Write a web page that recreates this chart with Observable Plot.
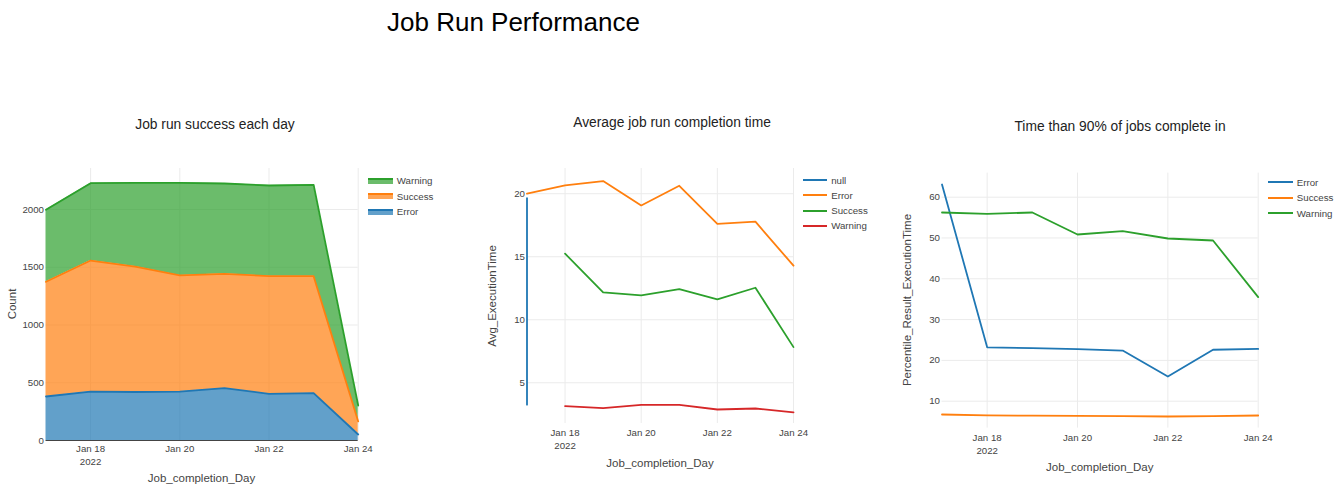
<!DOCTYPE html>
<html>
<head>
<meta charset="utf-8">
<script src="https://cdn.jsdelivr.net/npm/d3@7"></script>
<script src="https://cdn.jsdelivr.net/npm/@observablehq/plot@0.6"></script>
<style>
  html, body { margin: 0; padding: 0; background: #fff; }
  body { font-family: "Liberation Sans", Arial, Helvetica, sans-serif; }
  #root { position: relative; width: 1338px; height: 497px; overflow: hidden; background: #fff; }
  .abs { position: absolute; white-space: nowrap; }
  .ctr { transform: translate(-50%, -50%); }
  .rot { transform: translate(-50%, -50%) rotate(-90deg); }
  .legrow { position: absolute; height: 15.5px; display: flex; align-items: center; font-size: 9.7px; color: #444; white-space: nowrap; }
  .sw { display: inline-block; width: 24.5px; margin-right: 4px; }
  svg { overflow: visible; }
</style>
</head>
<body>
<div id="root"></div>
<script>
// ---------- data ----------
const days = ["2022-01-17","2022-01-18","2022-01-19","2022-01-20","2022-01-21","2022-01-22","2022-01-23","2022-01-24"];
const xTickDays = ["2022-01-18","2022-01-20","2022-01-22","2022-01-24"];
const xTickLabels = ["Jan 18\n2022","Jan 20","Jan 22","Jan 24"];

// Panel 1: counts per status (stacked)
const countStatuses = ["Error","Success","Warning"];
const countError   = [381, 424, 420, 424, 453, 404, 410, 52];
const countSuccess = [993, 1134, 1086, 1005, 990, 1019, 1013, 113];
const countWarning = [623, 670, 725, 802, 782, 785, 791, 138];
const countTicks = [0, 500, 1000, 1500, 2000];

// Panel 2: average execution time
const avgSeries = ["null","Error","Success","Warning"];
const avgNullDays = ["2022-01-17","2022-01-17"];
const avgNullValues = [19.64, 3.26];
const avgError   = [20.0, 20.66, 21.0, 19.07, 20.63, 17.6, 17.78, 14.29];
const avgSuccess = [null, 15.24, 12.17, 11.93, 12.43, 11.61, 12.54, 7.83];
const avgWarning = [null, 3.15, 2.99, 3.25, 3.25, 2.88, 2.96, 2.65];
const avgTicks = [5, 10, 15, 20];

// Panel 3: 90th percentile execution time
const pctSeries = ["Error","Success","Warning"];
const pctError   = [63.1, 23.2, 23.0, 22.75, 22.4, 16.05, 22.6, 22.8];
const pctSuccess = [6.73, 6.5, 6.45, 6.4, 6.35, 6.24, 6.35, 6.49];
const pctWarning = [56.24, 55.9, 56.24, 50.85, 51.67, 49.87, 49.38, 35.5];
const pctTicks = [10, 20, 30, 40, 50, 60];

const titleText = "Job Run Performance";
const subtitles = ["Job run success each day", "Average job run completion time", "Time than 90% of jobs complete in"];
const yTitles = ["Count", "Avg_ExecutionTime", "Percentile_Result_ExecutionTime"];
const xTitle = "Job_completion_Day";

// plotly default palette
const palette = ["#1f77b4", "#ff7f0e", "#2ca02c", "#d62728"];

// ---------- helpers ----------
const toDate = s => new Date(s + "T00:00:00Z");
const xTicks = xTickDays.map(toDate);
const labelByTime = new Map(xTicks.map((d, i) => [+d, xTickLabels[i]]));
const fmtX = d => labelByTime.get(+d);
const fmtY = d => String(d);
const xDomain = [toDate(days[0]), toDate(days[days.length - 1])];

function rowsFrom(seriesNames, valueArrays) {
  const rows = [];
  seriesNames.forEach((s, k) => {
    valueArrays[k].forEach((v, i) => {
      if (v != null) rows.push({day: toDate(days[i]), value: v, series: s});
    });
  });
  return rows;
}

const root = document.getElementById("root");
function addText(text, x, y, cls, style) {
  const el = document.createElement("div");
  el.className = "abs " + cls;
  el.textContent = text;
  el.style.left = x + "px";
  el.style.top = y + "px";
  Object.assign(el.style, style || {});
  root.appendChild(el);
  return el;
}
function placeSvg(svg, left, top) {
  svg.style.position = "absolute";
  svg.style.left = left + "px";
  svg.style.top = top + "px";
  root.appendChild(svg);
}
function addLegend(names, colors, x, y0, step, kind) {
  names.forEach((n, i) => {
    const row = document.createElement("div");
    row.className = "legrow";
    row.style.left = x + "px";
    row.style.top = (y0 + i * step - 7.75) + "px";
    const sw = document.createElement("span");
    sw.className = "sw";
    if (kind === "area") {
      sw.style.height = "4px";
      sw.style.background = d3.color(colors[i]).copy({opacity: 0.7}).formatRgb();
      sw.style.borderTop = "2px solid " + colors[i];
    } else {
      sw.style.height = "2px";
      sw.style.background = colors[i];
    }
    row.appendChild(sw);
    const tx = document.createElement("span");
    tx.textContent = n;
    row.appendChild(tx);
    root.appendChild(row);
  });
}

const svgStyle = {fontFamily: "'Liberation Sans', Arial, sans-serif", fontSize: "9.7px", color: "#444", background: "transparent", overflow: "visible"};
const gridColor = "#ebebeb";

// ---------- Panel 1: stacked areas ----------
const countRows = rowsFrom(countStatuses, [countError, countSuccess, countWarning]);
const countColors = [palette[0], palette[1], palette[2]];
const p1 = Plot.plot({
  width: 450, height: 310,
  marginLeft: 45.5, marginRight: 92.3, marginTop: 8, marginBottom: 30,
  style: svgStyle,
  x: {type: "utc", domain: xDomain},
  y: {domain: [0, 2355]},
  color: {domain: countStatuses, range: countColors},
  marks: [
    Plot.gridX(xTicks, {stroke: gridColor, strokeOpacity: 1}),
    Plot.gridY(countTicks.slice(1), {stroke: gridColor, strokeOpacity: 1}),
    Plot.ruleY([0], {stroke: "#444", strokeWidth: 1}),
    Plot.areaY(countRows, {x: "day", y: "value", fill: "series", fillOpacity: 0.7, order: countStatuses}),
    Plot.lineY(countRows, Plot.stackY2({x: "day", y: "value", z: "series", stroke: "series", strokeWidth: 1.8, order: countStatuses})),
    Plot.axisX(xTicks, {tickSize: 0, tickPadding: 2.3, tickFormat: fmtX, lineHeight: 1.35, label: null, fill: "#444"}),
    Plot.axisY(countTicks, {tickSize: 0, tickPadding: 2, tickFormat: fmtY, label: null, fill: "#444"})
  ]
});
placeSvg(p1, 0, 160);

// ---------- Panel 2: average lines ----------
const avgRows = rowsFrom(["Error","Success","Warning"], [avgError, avgSuccess, avgWarning]);
avgNullDays.forEach((d, i) => avgRows.push({day: toDate(d), value: avgNullValues[i], series: "null"}));
const p2 = Plot.plot({
  width: 353, height: 301,
  marginLeft: 66.5, marginRight: 20, marginTop: 8, marginBottom: 38,
  style: svgStyle,
  x: {type: "utc", domain: xDomain},
  y: {domain: [1.77, 22.0]},
  color: {domain: avgSeries, range: palette},
  marks: [
    Plot.gridX(xTicks, {stroke: gridColor, strokeOpacity: 1}),
    Plot.gridY(avgTicks, {stroke: gridColor, strokeOpacity: 1}),
    Plot.lineY(avgRows, {x: "day", y: "value", z: "series", stroke: "series", strokeWidth: 1.8}),
    Plot.axisX(xTicks, {tickSize: 0, tickPadding: 3.5, tickFormat: fmtX, lineHeight: 1.35, label: null, fill: "#444"}),
    Plot.axisY(avgTicks, {tickSize: 0, tickPadding: 2, tickFormat: fmtY, label: null, fill: "#444"})
  ]
});
placeSvg(p2, 460, 160);

// ---------- Panel 3: percentile lines ----------
const pctRows = rowsFrom(pctSeries, [pctError, pctSuccess, pctWarning]);
const p3 = Plot.plot({
  width: 400, height: 310,
  marginLeft: 61.5, marginRight: 22.3, marginTop: 12.6, marginBottom: 42.4,
  style: svgStyle,
  x: {type: "utc", domain: xDomain},
  y: {domain: [3.4, 65.9]},
  color: {domain: pctSeries, range: [palette[0], palette[1], palette[2]]},
  marks: [
    Plot.gridX(xTicks, {stroke: gridColor, strokeOpacity: 1}),
    Plot.gridY(pctTicks, {stroke: gridColor, strokeOpacity: 1}),
    Plot.lineY(pctRows, {x: "day", y: "value", z: "series", stroke: "series", strokeWidth: 1.8}),
    Plot.axisX(xTicks, {tickSize: 0, tickPadding: 3.5, tickFormat: fmtX, lineHeight: 1.35, label: null, fill: "#444"}),
    Plot.axisY(pctTicks, {tickSize: 0, tickPadding: 2, tickFormat: fmtY, label: null, fill: "#444"})
  ]
});
placeSvg(p3, 880, 160);

// ---------- Titles, axis titles, legends ----------
addText(titleText, 387, 22, "", {fontSize: "26px", color: "#000", transform: "translateY(-50%)"});
addText(subtitles[0], 215, 124, "ctr", {fontSize: "13.8px", color: "#222"});
addText(subtitles[1], 672, 122, "ctr", {fontSize: "13.8px", color: "#222"});
addText(subtitles[2], 1120, 126, "ctr", {fontSize: "13.8px", color: "#222"});

addText(yTitles[0], 12, 304, "rot", {fontSize: "11.5px", color: "#444"});
addText(yTitles[1], 492, 296, "rot", {fontSize: "11.5px", color: "#444"});
addText(yTitles[2], 906.5, 300, "rot", {fontSize: "11.5px", color: "#444"});

addText(xTitle, 201.5, 478.3, "ctr", {fontSize: "11.5px", color: "#444"});
addText(xTitle, 660, 463.3, "ctr", {fontSize: "11.5px", color: "#444"});
addText(xTitle, 1099.7, 467.3, "ctr", {fontSize: "11.5px", color: "#444"});

addLegend(["Warning","Success","Error"], [palette[2], palette[1], palette[0]], 368.3, 180.7, 15.5, "area");
addLegend(avgSeries, palette, 802.7, 180, 15.33, "line");
addLegend(pctSeries, [palette[0], palette[1], palette[2]], 1268.3, 182.3, 15.5, "line");
</script>
</body>
</html>
